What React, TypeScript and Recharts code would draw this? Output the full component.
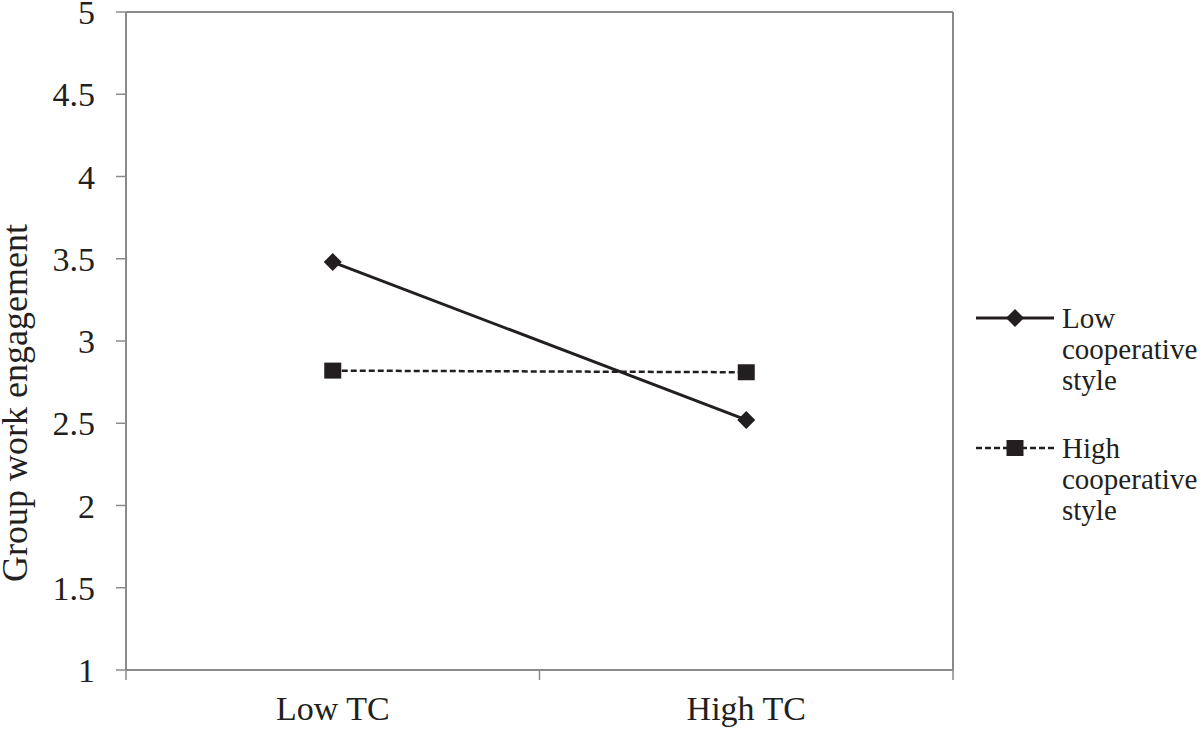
import React from 'react';
import { LineChart, Line, XAxis, YAxis, ReferenceLine, Legend, Label } from 'recharts';

const categories = ['Low TC', 'High TC'];
const lowCooperative = [3.48, 2.52];
const highCooperative = [2.82, 2.81];
const yTicks = [1, 1.5, 2, 2.5, 3, 3.5, 4, 4.5, 5];
const seriesNames = ['Low cooperative style', 'High cooperative style'];
const yAxisTitle = 'Group work engagement';

const data = categories.map((c, i) => ({
  pos: i + 0.5,
  category: c,
  low: lowCooperative[i],
  high: highCooperative[i],
}));
// category boundaries (integers) get tick marks, centres (halves) get labels
const xTicks = [0, 0.5, 1, 1.5, 2];

const FONT = 'Liberation Serif, Times New Roman, serif';
const INK = '#231f20';
const AXIS = '#8a8a8a';

const XTick = (props: any) => {
  const { x, y, payload } = props;
  const v = payload.value;
  if (Number.isInteger(v)) {
    return <line x1={x} x2={x} y1={y - 10} y2={y} stroke={AXIS} strokeWidth={1.5} />;
  }
  const label = categories[Math.floor(v)];
  return (
    <text x={x} y={y + 40} textAnchor="middle" fill={INK} style={{ fontFamily: FONT, fontSize: 34 }}>
      {label}
    </text>
  );
};

const Diamond = (props: any) => {
  const { cx, cy } = props;
  if (cx == null || cy == null) return null;
  const r = 9;
  return <path d={`M${cx},${cy - r}L${cx + r},${cy}L${cx},${cy + r}L${cx - r},${cy}Z`} fill={INK} />;
};

const Square = (props: any) => {
  const { cx, cy } = props;
  if (cx == null || cy == null) return null;
  return <rect x={cx - 8.5} y={cy - 8} width={17} height={16} fill={INK} />;
};

const renderLegend = (props: any) => {
  const payload = [...(props.payload || [])].sort(
    (a: any, b: any) => seriesNames.indexOf(a.value) - seriesNames.indexOf(b.value)
  );
  return (
    <div style={{ fontFamily: FONT, fontSize: 29, lineHeight: '31px', color: INK }}>
      {payload.map((entry: any, i: number) => {
        const isLow = entry.dataKey === 'low';
        return (
          <div key={entry.value} style={{ display: 'flex', alignItems: 'flex-start', marginTop: i ? 37 : 0 }}>
            <svg width={78} height={20} style={{ marginTop: 5, flex: 'none' }}>
              <line
                x1={0}
                x2={78}
                y1={10}
                y2={10}
                stroke={INK}
                strokeWidth={isLow ? 3 : 2.5}
                strokeDasharray={isLow ? undefined : '6 3'}
              />
              {isLow ? (
                <path d="M39,1L48,10L39,19L30,10Z" fill={INK} />
              ) : (
                <rect x={30.5} y={2} width={17} height={16} fill={INK} />
              )}
            </svg>
            <div style={{ marginLeft: 8 }}>
              {String(entry.value)
                .split(' ')
                .map((w: string) => (
                  <div key={w}>{w}</div>
                ))}
            </div>
          </div>
        );
      })}
    </div>
  );
};

export default function App() {
  return (
    <div
      style={{
        position: 'absolute',
        left: 0,
        top: 0,
        width: 1200,
        height: 730,
        background: '#fff',
        fontFamily: FONT,
      }}
    >
      <LineChart
        width={1200}
        height={730}
        data={data}
        margin={{ top: 12, right: 247, bottom: 0, left: 0 }}
        style={{ fontFamily: FONT }}
      >
        <XAxis
          dataKey="pos"
          type="number"
          domain={[0, 2]}
          ticks={xTicks}
          interval={0}
          height={60}
          tickSize={10}
          tickMargin={0}
          tickLine={false}
          tick={<XTick />}
          axisLine={{ stroke: AXIS, strokeWidth: 2 }}
        />
        <YAxis
          type="number"
          domain={[1, 5]}
          ticks={yTicks}
          interval={0}
          width={126}
          tickSize={10}
          tickMargin={21}
          tickLine={{ stroke: AXIS, strokeWidth: 1.5 }}
          axisLine={{ stroke: AXIS, strokeWidth: 2 }}
          tick={{ fill: INK, fontSize: 34, fontFamily: FONT, style: { fontFamily: FONT } }}
        >
          <Label
            content={() => (
              <text
                x={27}
                y={403}
                transform="rotate(-90 27 403)"
                textAnchor="middle"
                fill={INK}
                style={{ fontFamily: FONT, fontSize: 36 }}
              >
                {yAxisTitle}
              </text>
            )}
          />
        </YAxis>
        <ReferenceLine y={5} stroke={AXIS} strokeWidth={2} />
        <ReferenceLine x={2} stroke={AXIS} strokeWidth={2} />
        <Legend
          content={renderLegend}
          layout="horizontal"
          verticalAlign="middle"
          align="center"
          wrapperStyle={{ left: 976, top: 303, width: 222 }}
        />
        <Line
          dataKey="low"
          name={seriesNames[0]}
          type="linear"
          stroke={INK}
          strokeWidth={3}
          dot={<Diamond />}
          activeDot={false}
          isAnimationActive={false}
        />
        <Line
          dataKey="high"
          name={seriesNames[1]}
          type="linear"
          stroke={INK}
          strokeWidth={2.5}
          strokeDasharray="6 3"
          dot={<Square />}
          activeDot={false}
          isAnimationActive={false}
        />
      </LineChart>
    </div>
  );
}
